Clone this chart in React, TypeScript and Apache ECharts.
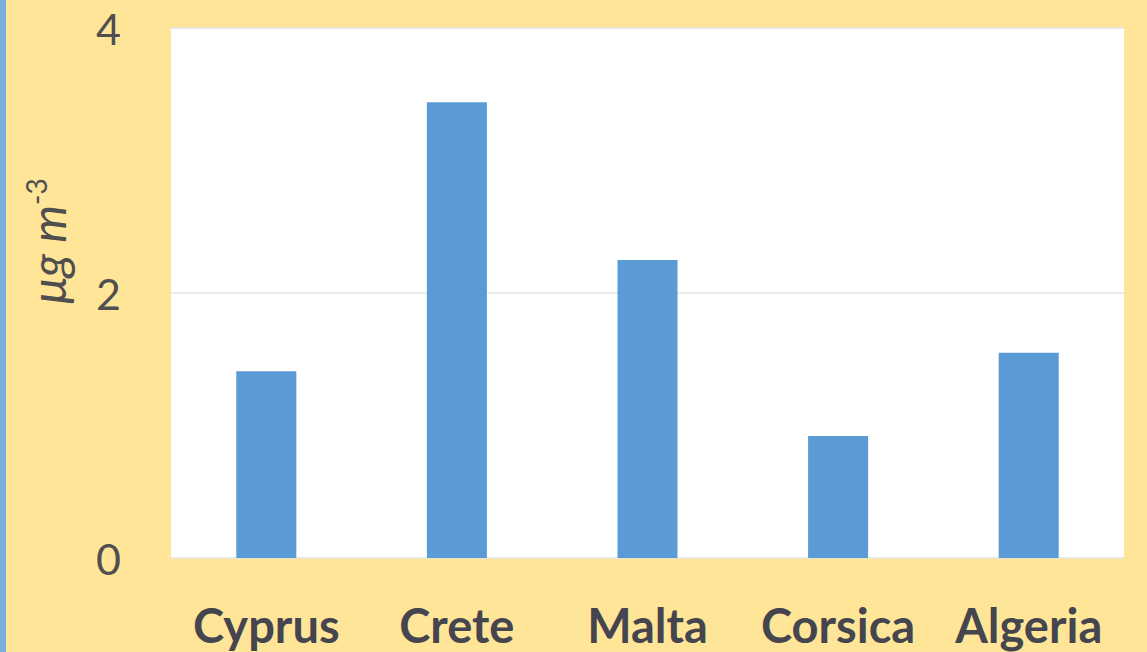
import React, { useEffect, useRef } from "react";
import * as echarts from "echarts";

const categories = ["Cyprus", "Crete", "Malta", "Corsica", "Algeria"];
const values = [1.41, 3.44, 2.25, 0.92, 1.55];
const yTicks = [0, 2, 4];

export default function App() {
  const ref = useRef<HTMLDivElement>(null);
  useEffect(() => {
    const chart = echarts.init(ref.current!, null, { renderer: "svg" });
    chart.setOption({
      animation: false,
      backgroundColor: "#FFE597",
      grid: {
        left: 171,
        right: 23,
        top: 28,
        bottom: 94,
        show: true,
        backgroundColor: "#FFFFFF",
        borderWidth: 0,
      },
      xAxis: {
        type: "category",
        data: categories,
        axisLine: { show: false },
        axisTick: { show: false },
        axisLabel: {
          interval: 0,
          hideOverlap: false,
          fontFamily: "Lato",
          fontWeight: "bold",
          fontSize: 47,
          color: "#45454F",
          margin: 43,
        },
      },
      yAxis: {
        type: "value",
        min: yTicks[0],
        max: yTicks[yTicks.length - 1],
        interval: 2,
        axisLine: { show: false },
        axisTick: { show: false },
        splitLine: { lineStyle: { color: "#E3E3E3", width: 1.5 } },
        axisLabel: {
          fontFamily: "Lato",
          fontSize: 43,
          color: "#4F4F4F",
          margin: 50,
        },
      },
      graphic: [
        {
          type: "rect",
          left: 0,
          top: 0,
          shape: { width: 6, height: 652 },
          style: { fill: "#7DAEE0" },
        },
        {
          type: "text",
          x: 47,
          y: 241,
          rotation: Math.PI / 2,
          style: {
            text: "{a|μg m}{s|-3}",
            align: "center",
            verticalAlign: "middle",
            rich: {
              a: {
                fontFamily: "Lato",
                fontStyle: "italic",
                fontSize: 48,
                fill: "#4F4F4F",
              },
              s: {
                fontFamily: "Lato",
                fontSize: 28,
                fill: "#4F4F4F",
                verticalAlign: "top",
                padding: [0, 0, 22, 0],
              },
            },
          },
        },
      ],
      series: [
        {
          type: "bar",
          data: values,
          barWidth: "31.5%",
          itemStyle: { color: "#5B9BD5" },
        },
      ],
    });
    return () => chart.dispose();
  }, []);
  return (
    <div
      ref={ref}
      style={{ position: "fixed", left: 0, top: 0, width: 1147, height: 652 }}
    />
  );
}
